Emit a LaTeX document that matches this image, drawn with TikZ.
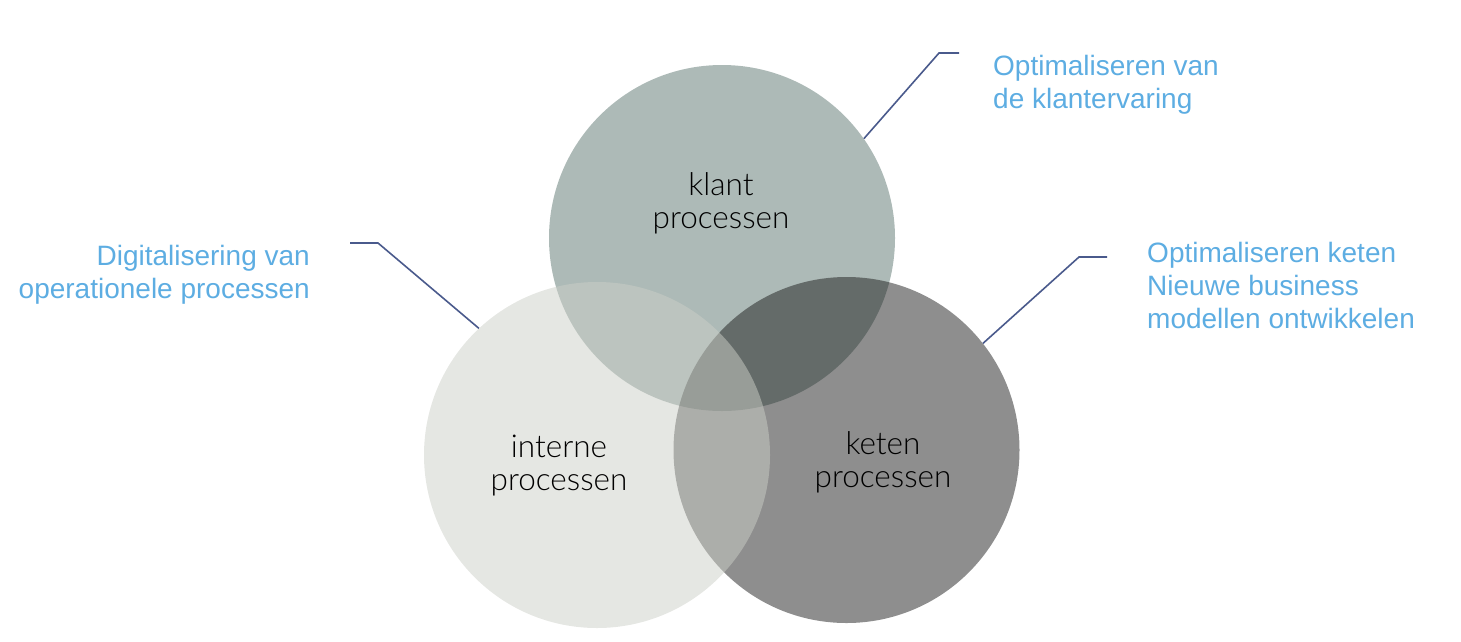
\documentclass[tikz,border=0pt]{standalone}
\usepackage{fontspec}
\setmainfont{Liberation Sans}
\newfontfamily\labelfont{Lato Light}
\definecolor{topc}{RGB}{173,186,183}
\definecolor{rightc}{RGB}{29,29,29}
\definecolor{leftc}{RGB}{204,207,199}
\definecolor{notec}{RGB}{93,173,226}
\definecolor{leaderc}{RGB}{74,90,140}
\begin{document}
\begin{tikzpicture}[x=1pt,y=-1pt,
  setc/.style={circle, minimum size=346pt, inner sep=0pt, draw=none},
  lbl/.style={font=\labelfont\fontsize{31.5}{33}\selectfont, align=center, text=black, inner sep=0pt},
  notetext/.style={font=\fontsize{28}{33}\selectfont, text=notec, inner sep=0pt},
  leaderline/.style={draw=leaderc, line width=1.6pt}]
\useasboundingbox (0,0) rectangle (1461,641);
% circles
\node[setc, fill=topc] (klant) at (722,238) {};
\node[setc, fill=rightc, fill opacity=0.5] (keten) at (846.5,450) {};
\node[setc, fill=leftc, fill opacity=0.5] (interne) at (597,455) {};
% circle labels (base = baseline of last line)
\node[lbl, anchor=base] (klantlbl) at (721,228) {klant\\processen};
\node[lbl, anchor=base] (internelbl) at (559,490) {interne\\processen};
\node[lbl, anchor=base] (ketenlbl) at (883,487) {keten\\processen};
% notes
\node[notetext, anchor=base west, align=left] (n1) at (993,108) {Optimaliseren van\\de klantervaring};
\node[notetext, anchor=base east, align=right] (n2) at (310,298) {Digitalisering van\\operationele processen};
\node[notetext, anchor=base west, align=left] (n3) at (1147,328) {Optimaliseren keten\\Nieuwe business\\modellen ontwikkelen};
% leader lines
\coordinate (k1) at (939,53);
\coordinate (k2) at (959,53);
\coordinate (i1) at (378,243);
\coordinate (i2) at (350,243);
\coordinate (e1) at (1079,257);
\coordinate (e2) at (1107,257);
\draw[leaderline] (klant.35.3) -- (k1) -- (k2);
\draw[leaderline] (interne.133.4) -- (i1) -- (i2);
\draw[leaderline] (keten.38.7) -- (e1) -- (e2);
\end{tikzpicture}
\end{document}
